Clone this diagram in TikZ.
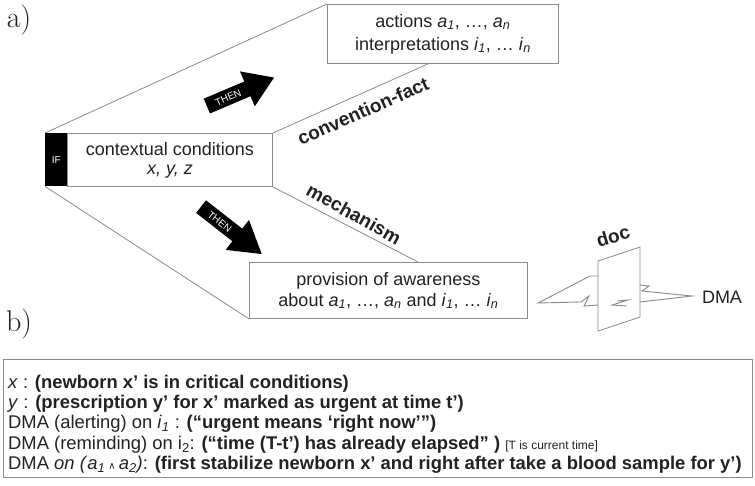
\documentclass[tikz,border=0pt]{standalone}
\usepackage{fontspec}
\setsansfont{Liberation Sans}
\newfontfamily\dejavu{DejaVu Sans}
\definecolor{linegray}{HTML}{8A8A8A}
\definecolor{txt}{HTML}{222222}
\newcommand{\fs}[1]{\fontsize{#1}{#1}\selectfont}
\newcommand{\isub}[2]{\textit{#1}\textsubscript{\textit{#2}}}
\begin{document}
\begin{tikzpicture}[x=1pt,y=-1pt,font=\sffamily,text=txt,
  ln/.style={draw=linegray,line width=0.8pt},
  bolt/.style={draw=linegray,line width=0.9pt,line join=miter},
  box/.style={draw=linegray,line width=0.9pt,fill=white,inner sep=0pt,anchor=north west,align=center},
  lab/.style={font=\sffamily\bfseries\fs{19}},
  thenarrow/.style={fill=black},
  thentext/.style={text=white,font=\sffamily\fs{10},transform shape},
  bline/.style={anchor=west,inner sep=0pt,font=\sffamily\fs{18.4}}]
\useasboundingbox (0,0) rectangle (755,485);
\fill[white] (0,0) rectangle (755,485);
% labels
\node[font=\rmfamily\fs{30}] (la) at (19,20) {a)};
\node[font=\rmfamily\fs{30}] (lb) at (19,324) {b)};
% boxes
\node[fill=black,minimum width=22,minimum height=53,inner sep=0pt,anchor=north west,text=white,font=\sffamily\fs{10}] (if) at (45,133) {IF};
\node[box,minimum width=205,minimum height=53,font=\sffamily\fs{18}] (ctx) at (67,133) {contextual conditions\\[1pt]\textit{x, y, z}};
\node[box,minimum width=231,minimum height=59,font=\sffamily\fs{18}] (top) at (327,4) {actions \isub{a}{1}, \dots, \isub{a}{n}\\[5pt]interpretations \isub{i}{1}, \dots\ \isub{i}{n}};
\node[box,minimum width=278,minimum height=56,font=\sffamily\fs{18}] (bot) at (249,262) {provision of awareness\\[3pt]about \isub{a}{1}, \dots, \isub{a}{n} and \isub{i}{1}, \dots\ \isub{i}{n}};
% connecting lines
\draw[ln] (if.north west) -- (top.north west);
\draw[ln] (ctx.north east) -- ([xshift=101pt]top.south west);
\draw[ln] (if.south west) -- (bot.south west);
\draw[ln] (ctx.south east) -- ([xshift=169pt]bot.north west);
\node[lab,rotate=24] (cf) at (363,111) {convention-fact};
\node[lab,rotate=-29] (mech) at (354,214) {mechanism};
% THEN arrows
\begin{scope}[shift={(240,92)},rotate=23]
\fill[thenarrow] (-36,-8) -- (8,-8) -- (8,-19) -- (37,0) -- (8,19) -- (8,8) -- (-36,8) -- cycle;
\node[thentext] (then1) at (-13,0.5) {THEN};
\end{scope}
\begin{scope}[shift={(231,230)},rotate=-38]
\fill[thenarrow] (-38,-8) -- (8,-8) -- (8,-19) -- (39,0) -- (8,19) -- (8,8) -- (-38,8) -- cycle;
\node[thentext] (then2) at (-14,0.5) {THEN};
\end{scope}
% doc plane and lightning
\draw[ln,fill=white] (598,261) -- (640,247) -- (640,317) -- (598,331) -- cycle;
\draw[bolt] (598,276) -- (590,276) -- (538,303) -- (581,302) -- (589,296) -- (584,306) -- (598,305);
\draw[bolt] (617,301) -- (628,300) -- (612,305) -- (627,306);
\draw[bolt] (640,285) -- (649,286) -- (642,291) -- (692,296) -- (640,302);
\node[lab,rotate=17] (doc) at (613,236) {doc};
\node[font=\sffamily\fs{18}] (dma) at (722,297) {DMA};
% panel b
\node[draw=linegray,line width=1pt,minimum width=749,minimum height=118,anchor=north west,inner sep=0pt] (panel) at (3,359) {};
\node[bline] (l1) at (8,384) {\textit{x} : \textbf{(newborn x’ is in critical conditions)}};
\node[bline] (l2) at (8,404) {\textit{y} : \textbf{(prescription y’ for x’ marked as urgent at time t’)}};
\node[bline] (l3) at (8,424) {DMA (alerting) on \isub{i}{1} : \textbf{(“urgent means ‘right now’”)}};
\node[bline] (l4) at (8,445) {DMA (reminding) on i\textsubscript{2}: \textbf{(“time (T-t’) has already elapsed” )} {\fs{12}[T is current time]}};
\node[bline] (l5) at (8,465) {DMA \textit{on (}\isub{a}{1}\,{\dejavu\fs{10}∧}\,\isub{a}{2}\textit{)}: \textbf{(first stabilize newborn x’ and right after take a blood sample for y’)}};
\end{tikzpicture}
\end{document}
